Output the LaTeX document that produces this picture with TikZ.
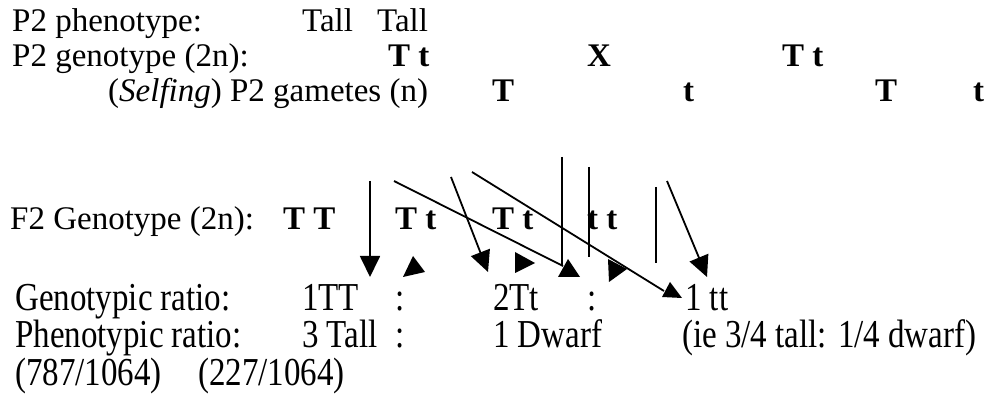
\documentclass[tikz,border=0pt]{standalone}
\usepackage{fontspec}
\setmainfont{Liberation Serif}
\usetikzlibrary{arrows.meta}
\newcommand{\tallrow}[1]{\scalebox{1}[1.2]{#1}}

\begin{document}
\begin{tikzpicture}[x=1pt,y=-1pt,
  every node/.style={anchor=base west,inner sep=0pt,font=\fontsize{33}{40}\selectfont},
  gene/.style={font=\fontsize{33}{40}\selectfont\bfseries},
  ratio/.style={text height=24pt,text depth=5pt},
  link/.style={line width=1.8pt},
  dart/.style={link,-{Triangle[length=21pt,width=20pt]}},
  stray/.style={fill=black}]
\useasboundingbox (0,0) rectangle (989,398);
\node (phenoLbl) at (12,32) {P2 phenotype:};
\node (phenoA) at (302,32) {Tall};
\node (phenoB) at (377,32) {Tall};
\node (genoLbl) at (12,67) {P2 genotype (2n):};
\node[gene] (genoA) at (388,67) {T t};
\node[gene] (cross) at (587,67) {X};
\node[gene] (genoB) at (782,67) {T t};
\node (gamLbl) at (108,102) {(\textit{Selfing}) P2 gametes (n)};
\node[gene] (gamA) at (492,102) {T};
\node[gene] (gama) at (683,102) {t};
\node[gene] (gamB) at (875,102) {T};
\node[gene] (gamb) at (973,102) {t};
\node (fLbl) at (10,230) {F2 Genotype (2n):};
\node[gene] (fTT) at (283,230) {T T};
\node[gene] (fTt) at (395,230) {T t};
\node[gene] (fTtb) at (492,230) {T t};
\node[gene] (ftt) at (587,230) {t t};
\node[ratio] (genoRatio) at (15,311) {\tallrow{Genotypic ratio:}};
\node[ratio] (rTT) at (302,311) {\tallrow{1TT}};
\node[ratio] (colA) at (395,311) {\tallrow{:}};
\node[ratio] (rTt) at (493,311) {\tallrow{2Tt}};
\node[ratio] (colB) at (587,311) {\tallrow{:}};
\node[ratio] (rtt) at (685,311) {\tallrow{1 tt}};
\node[ratio] (phenoRatio) at (15,348) {\tallrow{Phenotypic ratio:}};
\node[ratio] (rTall) at (302,348) {\tallrow{3 Tall}};
\node[ratio] (colC) at (395,348) {\tallrow{:}};
\node[ratio] (rDwarf) at (493,348) {\tallrow{1 Dwarf}};
\node[ratio] (rFrac) at (682,348) {\tallrow{(ie 3/4 tall: 1/4 dwarf)}};
\node[ratio] (cntTall) at (15,385) {\tallrow{(787/1064)}};
\node[ratio] (cntDwarf) at (198,385) {\tallrow{(227/1064)}};
\coordinate (downA) at (370,181);
\coordinate (downAend) at (370,277);
\coordinate (slantA) at (394,181);
\coordinate (slantAend) at (563,266);
\coordinate (steepA) at (451,177);
\coordinate (steepAend) at (488,272);
\coordinate (slantB) at (472,172);
\coordinate (slantBend) at (664,291);
\coordinate (barA) at (562,157);
\coordinate (barAend) at (562,265);
\coordinate (barB) at (589,167);
\coordinate (barBend) at (589,257);
\coordinate (barC) at (656,187);
\coordinate (barCend) at (656,263);
\coordinate (steepB) at (667,181);
\coordinate (steepBend) at (707,277);
\draw[dart] (downA) -- (downAend);
\draw[link] (slantA) -- (slantAend);
\draw[dart] (steepA) -- (steepAend);
\draw[link] (slantB) -- (slantBend);
\draw[link] (barA) -- (barAend);
\draw[link] (barB) -- (barBend);
\draw[link] (barC) -- (barCend);
\draw[dart] (steepB) -- (steepBend);
\fill[stray] (413,256) -- (403,277) -- (425,272) -- cycle;
\fill[stray] (568,259) -- (558,277) -- (580,277) -- cycle;
\fill[stray] (515,252) -- (515,273) -- (535,263) -- cycle;
\fill[stray] (608,259) -- (609,282) -- (627,269) -- cycle;
\fill[stray] (670,282) -- (662,297) -- (682,298) -- cycle;
\end{tikzpicture}
\end{document}
